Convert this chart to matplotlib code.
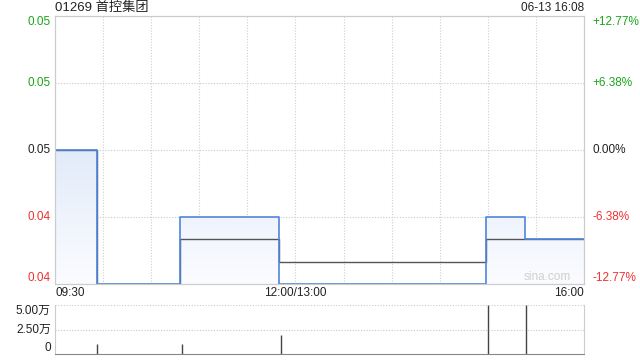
import matplotlib
matplotlib.use("Agg")
import matplotlib.pyplot as plt
import numpy as np
from matplotlib.colors import LinearSegmentedColormap

plt.rcParams['font.family'] = ['Liberation Sans', 'Noto Sans CJK SC', 'DejaVu Sans']

# data
title = "01269 首控集团"
stamp = "06-13 16:08"
prev_close = 0.047
step_times = ["09:30", "09:56", "10:48", "11:50", "14:59", "15:23", "16:00"]
step_prices = [0.047, 0.041, 0.044, 0.041, 0.044, 0.043]
avg_prices = [0.047, 0.041, 0.043, 0.042, 0.043, 0.043]
vol_times = ["09:56", "10:49", "11:51", "15:00", "15:24"]
vol_values = [9900, 9900, 19400, 60000, 60000]
pct_ticks = [12.77, 6.38, 0.00, -6.38, -12.77]
x_labels = ["09:30", "12:00/13:00", "16:00"]
vol_ticks = [0, 25000, 50000]
vol_tick_labels = ["0", "2.50万", "5.00万"]


def to_min(t):
    h, m = map(int, t.split(":"))
    m = h * 60 + m - (9 * 60 + 30)
    if m > 150:
        m -= 60  # lunch break
    return m


GREEN = "#1aa51a"
RED = "#f03030"
FS = 8.5

fig = plt.figure(figsize=(6.4, 3.6), dpi=100)
ax = fig.add_axes([55 / 640, 1 - 284 / 360, 529 / 640, 268 / 360])
axv = fig.add_axes([55 / 640, 1 - 354 / 360, 529 / 640, 49 / 360])

xs = [to_min(t) for t in step_times]
px = []
py = []
pa = []
for i, p in enumerate(step_prices):
    px += [xs[i], xs[i + 1]]
    py += [p, p]
    pa += [avg_prices[i], avg_prices[i]]

lo = prev_close * (1 - 0.1277)
hi = prev_close * (1 + 0.1277)
ax.set_xlim(0, 330)
ax.set_ylim(lo, hi)

# gradient fill under the price line
poly = ax.fill_between(px, py, lo, color="none")
cmap = LinearSegmentedColormap.from_list("g", ["#fbfcff", "#e2ebfa"])
grad = np.linspace(0, 1, 256).reshape(-1, 1)
im = ax.imshow(grad, cmap=cmap, aspect="auto", origin="lower",
               extent=[0, 330, lo, prev_close], zorder=1)
im.set_clip_path(poly.get_paths()[0], transform=ax.transData)

ax.plot(px, pa, color="#555555", lw=1.0, zorder=2)
ax.plot(px, py, color="#4f86dc", lw=1.2, zorder=3)

tick_vals = [prev_close * (1 + p / 100) for p in pct_ticks]
for v in tick_vals[1:-1]:
    ax.axhline(v, color="#c8c8c8", lw=0.8, ls=(0, (1, 1.5)), zorder=0)
for m in range(30, 330, 30):
    ax.axvline(m, color="#d0d0d0", lw=0.8, ls=(0, (1, 1.5)), zorder=0)

ax.set_xticks([])
ax.set_yticks(tick_vals)
ax.set_yticklabels(["%.2f" % v for v in tick_vals], fontsize=FS)
cols = [GREEN, GREEN, "#222222", RED, RED]
valign = ["top", "center", "center", "center", "bottom"]
for lab, c, va in zip(ax.get_yticklabels(), cols, valign):
    lab.set_color(c)
    lab.set_va(va)
ax.tick_params(axis="y", length=0, pad=3)

ax2 = ax.twinx()
ax2.set_ylim(lo, hi)
ax2.set_yticks(tick_vals)
ax2.set_yticklabels([("+%.2f%%" % p if p > 0 else "%.2f%%" % p) for p in pct_ticks],
                    fontsize=FS)
for lab, c, va in zip(ax2.get_yticklabels(), cols, valign):
    lab.set_color(c)
    lab.set_va(va)
ax2.tick_params(axis="y", length=0, pad=6)

for a in (ax, ax2):
    for s in a.spines.values():
        s.set_color("#cccccc")

ax.text(0, 1.008, title, transform=ax.transAxes, fontsize=9.5, color="#222222",
        ha="left", va="bottom")
ax.text(1, 1.008, stamp, transform=ax.transAxes, fontsize=FS, color="#222222",
        ha="right", va="bottom")
ax.text(0.975, 0.005, "sina.com", transform=ax.transAxes, fontsize=FS,
        color="#d0d0d0", ha="right", va="bottom")

label_pos = [0, 150, 330]
aligns = ["left", "center", "right"]
for lab, m, al in zip(x_labels, label_pos, aligns):
    ax.text(m, -0.012, lab, transform=ax.get_xaxis_transform(), fontsize=FS,
            color="#222222", ha=al, va="top")

# volume panel
vx = [to_min(t) for t in vol_times]
axv.set_xlim(0, 330)
axv.set_ylim(0, 50000)
axv.vlines(vx, 0, np.minimum(vol_values, 50000), color="#444444", lw=1.0)
axv.axhline(25000, color="#c8c8c8", lw=0.8, ls=(0, (1, 1.5)))
axv.axhline(50000, color="#c8c8c8", lw=0.8, ls=(0, (1, 1.5)))
axv.set_xticks([])
axv.set_yticks(vol_ticks)
axv.set_yticklabels(vol_tick_labels, fontsize=FS, color="#222222")
for lab, va in zip(axv.get_yticklabels(), ["bottom", "center", "top"]):
    lab.set_va(va)
axv.tick_params(axis="y", length=0, pad=3)
for k in ("top", "left", "right"):
    axv.spines[k].set_color("#cccccc")
axv.spines["top"].set_visible(False)
axv.spines["bottom"].set_color("#888888")
axv.spines["bottom"].set_linestyle((0, (2, 1)))

fig.savefig("out.png", dpi=100)
